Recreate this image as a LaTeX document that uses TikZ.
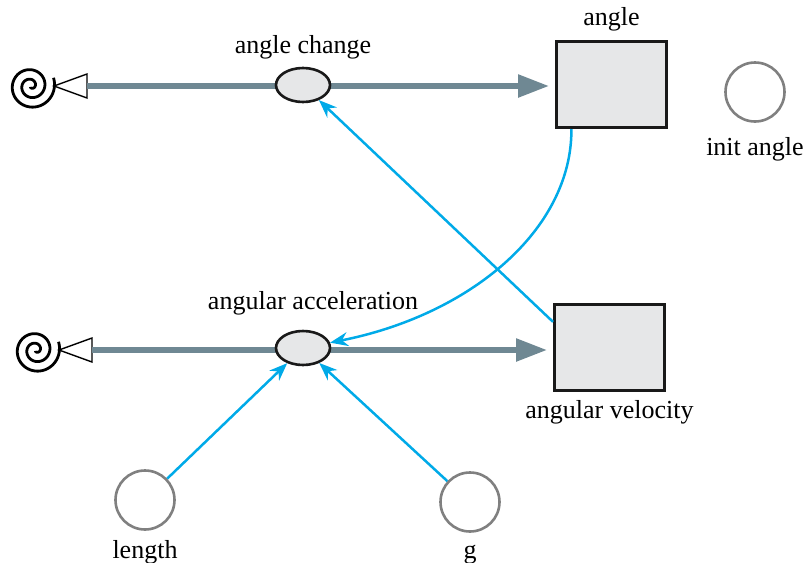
\documentclass[tikz,border=0pt]{standalone}
\usepackage{fontspec}
\setmainfont{Liberation Serif}
\usetikzlibrary{arrows.meta,positioning,shapes.geometric}
\definecolor{flowgray}{HTML}{6F8893}
\definecolor{linkblue}{HTML}{00AAE8}
\definecolor{stockfill}{HTML}{E6E7E8}
\tikzstyle{stock} = [draw=black!90, line width=3pt, fill=stockfill, rectangle, minimum width=110pt, minimum height=86pt]
\tikzstyle{valve} = [draw=black!90, line width=2.6pt, fill=stockfill, ellipse, minimum width=54pt, minimum height=34pt, inner sep=0pt]
\tikzstyle{aux} = [draw=black!50, line width=2.6pt, circle, minimum size=59pt, inner sep=0pt]
\tikzstyle{flow} = [draw=flowgray, line width=5.5pt, -{Triangle[length=31pt,width=22pt]}]
\tikzstyle{link} = [draw=linkblue, line width=2.5pt, -{Stealth[length=18pt,width=14pt,inset=6pt]}]
\tikzstyle{lbl} = [font=\fontsize{26}{30}\selectfont, inner sep=0pt, text height=18pt, text depth=6pt]
\newcommand{\cloudat}[2]{%
  \begin{scope}[shift={(#1)}]
  \draw[line width=2.8pt] plot[domain=40:900, samples=200, variable=\t] ({\t/900*24*cos(\t+200)}, {-\t/900*24*sin(\t+200)});
  \draw[line width=1.4pt, fill=white] (56,-12) -- (56,12) -- (23,0) -- cycle;
  \coordinate (#2) at (56,0);
  \end{scope}}

\begin{document}
\begin{tikzpicture}[x=1pt, y=-1pt]
\useasboundingbox (0,0) rectangle (807,563);

% stocks
\node [stock] (angle) at (611.5,84.5) {};
\node [stock] (avel) at (609.5,347) {};
\node [lbl, above=8pt of angle] (anglelbl) {angle};
\node [lbl, below=9pt of avel] (avellbl) {angular velocity};

% clouds and flows
\cloudat{31,86}{tail1}
\cloudat{36,350}{tail2}
\draw [flow, shorten >=6pt] (tail1) -- (tail1 -| angle.west);
\draw [flow, shorten >=6pt] (tail2) -- (tail2 -| avel.west);
\node [valve] (achange) at (303,85) {};
\node [valve] (aacc) at (303,348) {};
\node [lbl, above=7pt of achange] (achangelbl) {angle change};
\node [lbl, above=14pt of aacc, xshift=10pt] (aacclbl) {angular acceleration};

% converters
\node [aux] (init) at (755,92) {};
\node [aux] (len) at (145,500) {};
\node [aux] (grav) at (470,502) {};
\node [lbl, below=14pt of init] (initlbl) {init angle};
\node [lbl, below=9pt of len] (lenlbl) {length};
\node [lbl, below=7pt of grav] (gravlbl) {g};

% links
\draw [link] (avel.156) -- (achange);
\draw [link] (angle.228) .. controls (572,230) and (470,315) .. (aacc);
\draw [link] (len) -- (aacc);
\draw [link] (grav) -- (aacc);
\end{tikzpicture}
\end{document}
